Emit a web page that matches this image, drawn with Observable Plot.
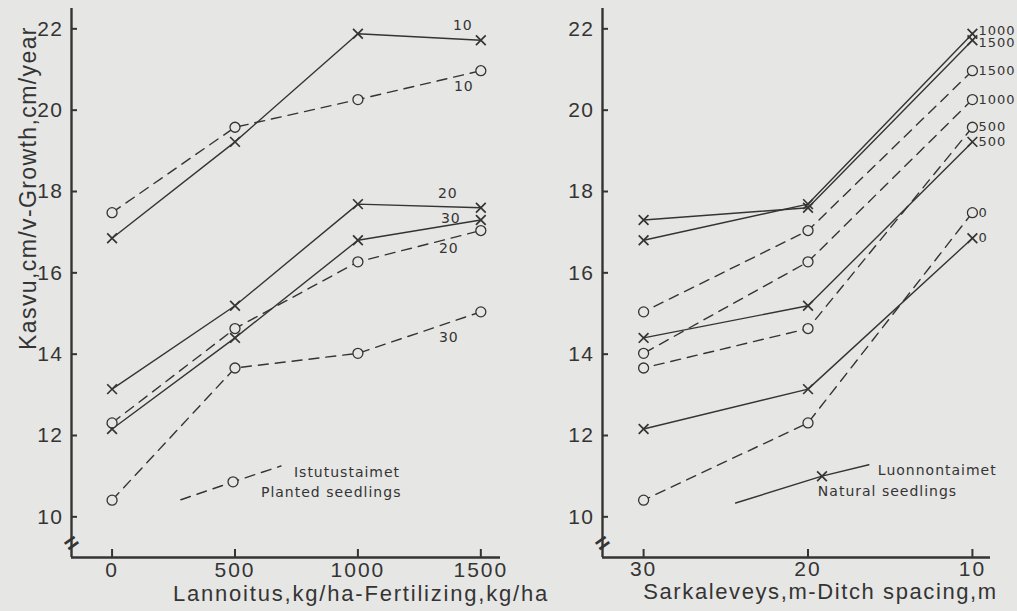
<!DOCTYPE html>
<html><head><meta charset="utf-8">
<script src="https://cdn.jsdelivr.net/npm/d3@7"></script>
<script src="https://cdn.jsdelivr.net/npm/@observablehq/plot@0.6"></script>
<style>
html,body{margin:0;padding:0;background:#e6e6e4;}
#wrap{position:relative;width:1017px;height:611px;display:flex;overflow:hidden;}
svg{overflow:visible;}
svg [aria-label="x-axis tick label"] text{letter-spacing:2px;}
svg [aria-label="y-axis tick label"] text{letter-spacing:1.5px;}
.small text{letter-spacing:1px;}
.ytitle text{letter-spacing:1.4px;}
.xtitleL text{letter-spacing:1.8px;}
.xtitleR text{letter-spacing:1.6px;}
</style></head><body><div id="wrap"></div>
<script>
// ---- data ----
const fertilizer = [0, 500, 1000, 1500];      // kg/ha
const spacings = [10, 20, 30];                // ditch spacing, m
const natural_10 = [16.85, 19.22, 21.88, 21.72];
const natural_20 = [13.14, 15.19, 17.69, 17.60];
const natural_30 = [12.16, 14.40, 16.80, 17.30];
const planted_10 = [17.48, 19.58, 20.26, 20.97];
const planted_20 = [12.31, 14.63, 16.27, 17.04];
const planted_30 = [10.41, 13.66, 14.02, 15.04];
const yTicks = [10, 12, 14, 16, 18, 20, 22];
const spacingTicks = [30, 20, 10];
const yTitle = "Kasvu,cm/v-Growth,cm/year";
const xTitleLeft = "Lannoitus,kg/ha-Fertilizing,kg/ha";
const xTitleRight = "Sarkaleveys,m-Ditch spacing,m";
const plantedName = ["Istutustaimet", "Planted seedlings"];
const naturalName = ["Luonnontaimet", "Natural seedlings"];
// legend key samples (data units)
const plantedKeyFert = [280, 492, 687];
const plantedKeyGrowth = [10.42, 10.86, 11.25];
const naturalKeySpacing = [24.4, 19.15, 16.3];
const naturalKeyGrowth = [10.34, 11.0, 11.28];

// ---- tidy table ----
const series = {natural: {10: natural_10, 20: natural_20, 30: natural_30},
                planted: {10: planted_10, 20: planted_20, 30: planted_30}};
const rows = [];
for (const type of ["natural", "planted"])
  for (const s of spacings)
    series[type][s].forEach((g, i) => rows.push({type, spacing: s, fert: fertilizer[i], growth: g}));
const nat = rows.filter(d => d.type === "natural");
const pla = rows.filter(d => d.type === "planted");

const ink = "#343434";
const bg = "#e6e6e4";
const yDomain = [9, 22.5];
const xDomL = [-165, 1580];
const xDomR = [32.5, 8.9];
const axisBreak = 9.35;
const tickFont = "Liberation Sans, Arial, Helvetica, sans-serif";
const smallFont = "DejaVu Sans, Verdana, sans-serif";
const fmt = d => String(d);

// ---- left panel ----
const leftLabelOffsets = {
  "natural-10": [-18, -15], "planted-10": [-17, 16],
  "natural-20": [-33, -14], "natural-30": [-30, -1],
  "planted-20": [-32, 18], "planted-30": [-32, 26]
};
const leftLabels = Object.entries(leftLabelOffsets).map(([k, [dx, dy]]) => {
  const [type, s] = k.split("-");
  const last = rows.filter(d => d.type === type && d.spacing === +s && d.fert === d3.max(fertilizer));
  return Plot.text(last, {x: "fert", y: "growth", text: d => String(d.spacing), dx, dy,
    fontFamily: smallFont, fontSize: 14, fill: ink, className: "small"});
});

const left = Plot.plot({
  width: 540, height: 611,
  marginTop: 8, marginBottom: 54, marginLeft: 71, marginRight: 40,
  style: {background: "transparent", color: ink, fontFamily: tickFont, fontSize: "21px", overflow: "visible"},
  x: {domain: xDomL},
  y: {domain: yDomain},
  marks: [
    Plot.ruleX([xDomL[0]], {stroke: ink, strokeWidth: 2.4}),
    Plot.ruleY([yDomain[0]], {stroke: ink, strokeWidth: 2.4}),
    Plot.axisY(yTicks, {tickSize: -6, tickPadding: 14, label: null, strokeWidth: 2, fontSize: 21, tickFormat: fmt}),
    Plot.axisX(fertilizer, {tickSize: -8, tickPadding: 13, label: null, strokeWidth: 2, fontSize: 21, tickFormat: fmt}),
    Plot.text(["="], {x: () => xDomL[0], y: () => axisBreak, rotate: -35, fontSize: 24, fontWeight: "bold", fill: ink}),
    Plot.text([yTitle], {frameAnchor: "left", textAnchor: "middle", lineAnchor: "middle", rotate: -90, dx: -43, dy: -95, fontSize: 23, fill: ink, fontFamily: tickFont, className: "ytitle"}),
    Plot.text([xTitleLeft], {frameAnchor: "bottom", textAnchor: "middle", dx: 75, dy: 36, lineAnchor: "middle", fontSize: 22, fill: ink, fontFamily: tickFont, className: "xtitleL"}),
    Plot.line(nat, {x: "fert", y: "growth", z: "spacing", stroke: ink, strokeWidth: 1.4}),
    Plot.line(pla, {x: "fert", y: "growth", z: "spacing", stroke: ink, strokeWidth: 1.4, strokeDasharray: "10,7"}),
    Plot.dot(nat, {x: "fert", y: "growth", symbol: "times", r: 4.5, stroke: ink, strokeWidth: 1.7}),
    Plot.dot(pla, {x: "fert", y: "growth", symbol: "circle", r: 5, fill: bg, stroke: ink, strokeWidth: 1.3}),
    ...leftLabels,
    // legend key (planted)
    Plot.line(plantedKeyFert, {x: d => d, y: (d, i) => plantedKeyGrowth[i], stroke: ink, strokeWidth: 1.4, strokeDasharray: "10,7"}),
    Plot.dot([plantedKeyFert[1]], {x: d => d, y: () => plantedKeyGrowth[1], r: 5, fill: bg, stroke: ink, strokeWidth: 1.3}),
    Plot.text([plantedName[0]], {x: () => plantedKeyFert[2], y: () => plantedKeyGrowth[2], dx: 13, dy: 7, textAnchor: "start", fontFamily: smallFont, fontSize: 14, fill: ink, className: "small"}),
    Plot.text([plantedName[1]], {x: () => plantedKeyFert[2], y: () => plantedKeyGrowth[2], dx: -20, dy: 27, textAnchor: "start", fontFamily: smallFont, fontSize: 14, fill: ink, className: "small"})
  ]
});

// ---- right panel ----
const atTen = rows.filter(d => d.spacing === d3.min(spacings));
const right = Plot.plot({
  width: 477, height: 611,
  marginTop: 8, marginBottom: 54, marginLeft: 62, marginRight: 27,
  style: {background: "transparent", color: ink, fontFamily: tickFont, fontSize: "21px", overflow: "visible"},
  x: {domain: xDomR},
  y: {domain: yDomain},
  marks: [
    Plot.ruleX([xDomR[0]], {stroke: ink, strokeWidth: 2.4}),
    Plot.ruleY([yDomain[0]], {stroke: ink, strokeWidth: 2.4}),
    Plot.axisY(yTicks, {tickSize: -6, tickPadding: 14, label: null, strokeWidth: 2, fontSize: 21, tickFormat: fmt}),
    Plot.axisX(spacingTicks, {tickSize: -8, tickPadding: 12, label: null, strokeWidth: 2, fontSize: 21, tickFormat: fmt}),
    Plot.text(["="], {x: () => xDomR[0], y: () => axisBreak, rotate: -35, fontSize: 24, fontWeight: "bold", fill: ink}),
    Plot.text([xTitleRight], {frameAnchor: "bottom", textAnchor: "middle", dx: 24, dy: 34, lineAnchor: "middle", fontSize: 22, fill: ink, fontFamily: tickFont, className: "xtitleR"}),
    Plot.line(nat, {x: "spacing", y: "growth", z: "fert", sort: {channel: "x"}, stroke: ink, strokeWidth: 1.4}),
    Plot.line(pla, {x: "spacing", y: "growth", z: "fert", sort: {channel: "x"}, stroke: ink, strokeWidth: 1.4, strokeDasharray: "10,7"}),
    Plot.dot(nat, {x: "spacing", y: "growth", symbol: "times", r: 4.5, stroke: ink, strokeWidth: 1.7}),
    Plot.dot(pla, {x: "spacing", y: "growth", symbol: "circle", r: 5, fill: bg, stroke: ink, strokeWidth: 1.3}),
    Plot.text(atTen.filter(d => !(d.type === "natural" && d.fert >= 1000)), {x: "spacing", y: "growth", text: d => String(d.fert), dx: 6, textAnchor: "start",
      fontFamily: smallFont, fontSize: 13, fill: ink, className: "small"}),
    Plot.text(atTen.filter(d => d.type === "natural" && d.fert === 1000), {x: "spacing", y: "growth", text: d => String(d.fert), dx: 6, dy: -3, textAnchor: "start",
      fontFamily: smallFont, fontSize: 13, fill: ink, className: "small"}),
    Plot.text(atTen.filter(d => d.type === "natural" && d.fert === 1500), {x: "spacing", y: "growth", text: d => String(d.fert), dx: 6, dy: 3, textAnchor: "start",
      fontFamily: smallFont, fontSize: 13, fill: ink, className: "small"}),
    // legend key (natural)
    Plot.line(naturalKeySpacing, {x: d => d, y: (d, i) => naturalKeyGrowth[i], stroke: ink, strokeWidth: 1.4}),
    Plot.dot([naturalKeySpacing[1]], {x: d => d, y: () => naturalKeyGrowth[1], symbol: "times", r: 4.5, stroke: ink, strokeWidth: 1.7}),
    Plot.text([naturalName[0]], {x: () => naturalKeySpacing[2], y: () => naturalKeyGrowth[2], dx: 9, dy: 6, textAnchor: "start", fontFamily: smallFont, fontSize: 14, fill: ink, className: "small"}),
    Plot.text([naturalName[1]], {x: () => naturalKeySpacing[2], y: () => naturalKeyGrowth[2], dx: -51, dy: 27, textAnchor: "start", fontFamily: smallFont, fontSize: 14, fill: ink, className: "small"})
  ]
});

const wrap = document.getElementById("wrap");
wrap.appendChild(left);
wrap.appendChild(right);
</script></body></html>
